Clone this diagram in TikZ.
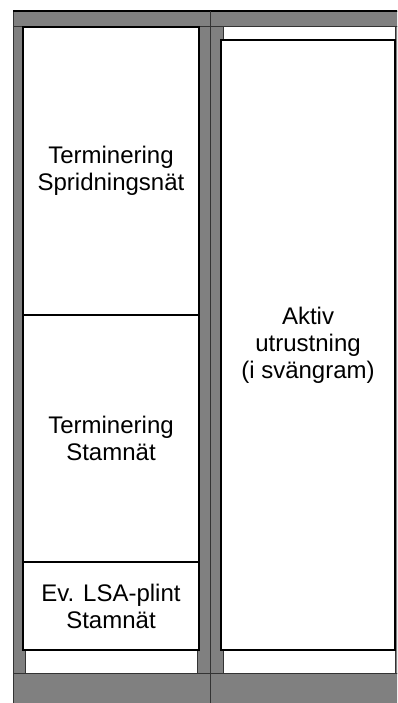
\documentclass[tikz,border=0pt]{standalone}
\usepackage{fontspec}
\setmainfont{Liberation Sans}
\begin{document}
\begin{tikzpicture}[x=1pt,y=-1pt,
  frame/.style={fill=framegray,draw=black!80,line width=0.8pt},
  panel/.style={draw=black,fill=white,line width=2.6pt,inner sep=0pt,
    align=center,font=\fontsize{24}{27}\selectfont}]
\definecolor{framegray}{RGB}{128,128,128}
\useasboundingbox (0,0) rectangle (397,703);
\clip (0,0) rectangle (397,703);
% rack frame: posts
\draw[frame] (13,26) rectangle (25,673);
\draw[frame] (197,26) rectangle (210,673);
\draw[frame] (210,26) rectangle (223,673);
\draw[frame] (395,26) rectangle (408,673);
% top and bottom rails
\draw[frame] (13,11) rectangle (410,26);
\draw[frame] (13,673) rectangle (410,710);
\draw[line width=2.3pt] (13,11) -- (410,11);
% divider between the two racks
\draw[black!80,line width=0.8pt] (210,11) -- (210,703);
% left rack contents
\node[panel,minimum width=176pt,minimum height=288pt] (sprid) at (111,171)
  {Terminering\\Spridningsnät};
\node[panel,minimum width=176pt,minimum height=247pt] (stam) at (111,438.5)
  {Terminering\\Stamnät};
\node[panel,minimum width=176pt,minimum height=88pt] (lsa) at (111,606)
  {Ev. LSA-plint\\Stamnät};
% right rack contents
\node[panel,minimum width=174pt,minimum height=610pt] (aktiv) at (308,345)
  {Aktiv\\utrustning\\(i svängram)};
\end{tikzpicture}
\end{document}
